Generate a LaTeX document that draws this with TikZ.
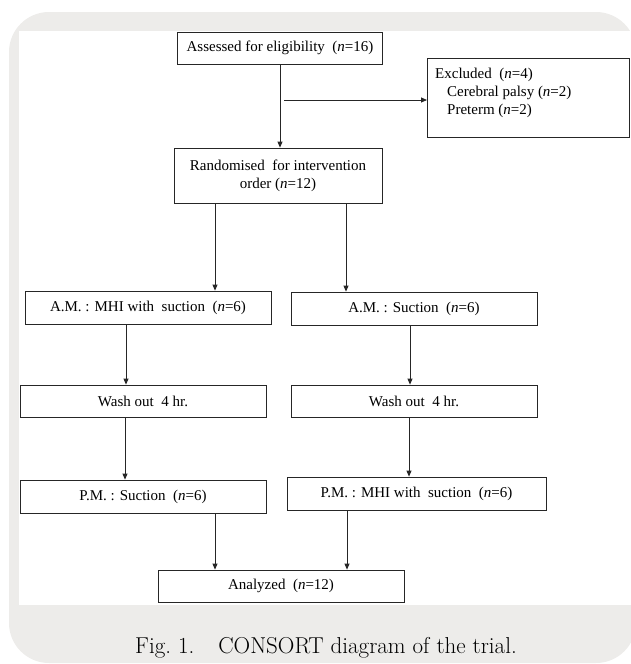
\documentclass[tikz,border=0pt]{standalone}
\usepackage{fontspec}
\usepackage{xcolor}
\usetikzlibrary{arrows.meta}
\newfontfamily\BoxFont{Liberation Serif}
\definecolor{panelgray}{RGB}{237,236,234}

\begin{document}
\begin{tikzpicture}[y=-1pt,x=1pt,
	box/.style={draw=black!85, line width=0.8pt, minimum height=32pt, inner sep=2pt, font=\BoxFont\fontsize{15}{18}\selectfont},
	arr/.style={draw=black!85, line width=0.8pt, -{Triangle[length=6pt,width=5pt]}}]
	\useasboundingbox (0,0) rectangle (631,664);
	\clip (0,0) rectangle (631,664);

	\fill[panelgray, rounded corners=40pt] (9,12) rectangle (636,663);
	\fill[white] (19,31) rectangle (631,605);

	\node[box, minimum width=205pt] (assess) at (280,48) {Assessed for eligibility\ \ (\textit{n}=16)};
	\node[box, minimum width=202pt, minimum height=79pt, anchor=north west] (excl) at (427,58) {};
	\node[anchor=north west, align=left, inner sep=0pt, font=\BoxFont\fontsize{15}{18}\selectfont] (excltxt) at (435,68)
		{Excluded\ \ (\textit{n}=4)\\\hspace{12pt}Cerebral palsy (\textit{n}=2)\\\hspace{12pt}Preterm (\textit{n}=2)};
	\node[box, minimum width=208pt, minimum height=55pt, align=center] (rand) at (278,175.5) {Randomised\ \ for intervention\\order (\textit{n}=12)};

	\node[box, minimum width=246pt, minimum height=33pt] (amA) at (148,307.5) {A.M. : MHI with\ \ suction\ \ (\textit{n}=6)};
	\node[box, minimum width=246pt, minimum height=33pt] (amB) at (414,308.5) {A.M. : Suction\ \ (\textit{n}=6)};
	\node[box, minimum width=246pt] (washA) at (143,401) {Wash out\ \ 4 hr.};
	\node[box, minimum width=246pt] (washB) at (414,401) {Wash out\ \ 4 hr.};
	\node[box, minimum width=246pt, minimum height=33pt] (pmA) at (143,496.5) {P.M. : Suction\ \ (\textit{n}=6)};
	\node[box, minimum width=259pt, minimum height=33pt] (pmB) at (416.5,493.5) {P.M. : MHI with\ \ suction\ \ (\textit{n}=6)};
	\node[box, minimum width=246pt] (anal) at (281,586) {Analyzed\ \ (\textit{n}=12)};

	\node[font=\fontsize{23}{27}\selectfont] (cap) at (326,648) {Fig.\ 1.\hspace{24pt}CONSORT diagram of the trial.};

	\coordinate (split) at (284,100);
	\draw[arr] (assess.south) -- (assess.south |- rand.north);
	\draw[arr] (split) -- (split -| excl.west);
	\draw[arr] (rand.south -| 215,0) -- (215,0 |- amA.north);
	\draw[arr] (rand.south -| 346,0) -- (346,0 |- amB.north);
	\draw[arr] (amA.south -| 126,0) -- (126,0 |- washA.north);
	\draw[arr] (amB.south -| 410,0) -- (410,0 |- washB.north);
	\draw[arr] (washA.south -| 125,0) -- (125,0 |- pmA.north);
	\draw[arr] (washB.south -| 409,0) -- (409,0 |- pmB.north);
	\draw[arr] (pmA.south -| 215,0) -- (215,0 |- anal.north);
	\draw[arr] (pmB.south -| 347,0) -- (347,0 |- anal.north);
\end{tikzpicture}
\end{document}
